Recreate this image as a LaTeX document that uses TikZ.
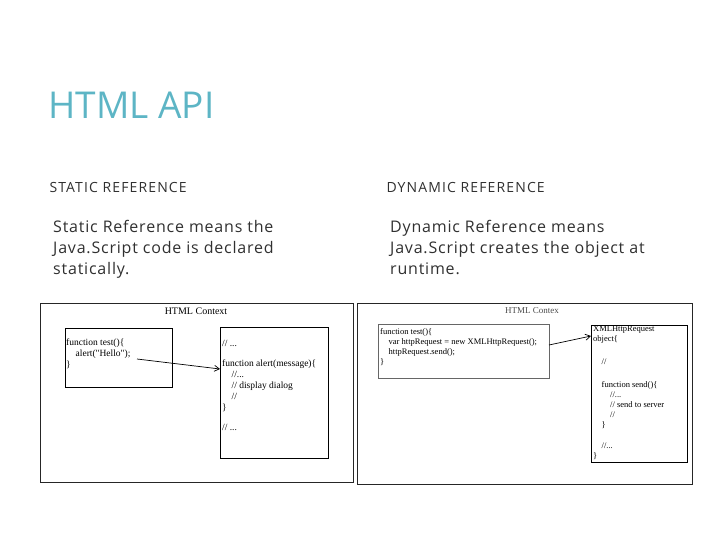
\documentclass[tikz,border=0pt]{standalone}
\usepackage{fontspec}
\setmainfont{Open Sans}
\newfontfamily\diag{Liberation Serif}
\usetikzlibrary{arrows.meta}
\definecolor{teal}{HTML}{5DB5C5}
\definecolor{txt}{HTML}{303030}
\begin{document}
\begin{tikzpicture}[x=1pt,y=-1pt,
  frame/.style={draw=black!85,line width=0.9pt},
  box/.style={draw,line width=0.9pt},
  boxg/.style={draw=black!60,line width=0.8pt},
  code/.style={font=\diag\fontsize{9.5}{11}\selectfont,anchor=north west,align=left,inner sep=0pt},
  arr/.style={-{Straight Barb[length=5pt,width=6pt]},line width=0.7pt}]
\useasboundingbox (0,0) rectangle (720,540);
\node[anchor=base west,text=teal,font=\fontsize{37}{40}\selectfont] (t) at (45,119) {HTML API};
\node[anchor=base west,text=txt,font=\fontsize{14}{17}\selectfont\addfontfeature{LetterSpace=8}] (h1) at (46,193) {STATIC REFERENCE};
\node[anchor=base west,text=txt,font=\fontsize{14}{17}\selectfont\addfontfeature{LetterSpace=8}] (h2) at (383,193) {DYNAMIC REFERENCE};
\node[anchor=north west,text=txt,align=left,inner sep=0pt,font=\fontsize{16}{21}\selectfont\addfontfeature{LetterSpace=5}] (b1) at (53,220) {Static Reference means the\\Java.Script code is declared\\statically.};
\node[anchor=north west,text=txt,align=left,inner sep=0pt,font=\fontsize{16}{21}\selectfont\addfontfeature{LetterSpace=5}] (b2) at (390,220) {Dynamic Reference means\\Java.Script creates the object at\\runtime.};
% left diagram
\draw[frame] (40,303) rectangle (353,482);
\node[font=\diag\fontsize{10}{11}\selectfont] (c1) at (196,311) {HTML Context};
\draw[box] (65,328) rectangle (172,387);
\node[code] (l1) at (66,339) {function test()\{\\\quad alert("Hello");\\\}};
\coordinate (la) at (137,359);
\draw[box] (220,327) rectangle (328,458);
\node[code] (l2) at (222,340) {// ...\\[9pt]function alert(message)\{\\\quad //...\\\quad // display dialog\\\quad //\\\}\\[9pt]// ...};
\coordinate (lb) at (220,369);
\draw[arr] (la) -- (lb);
% right diagram
\draw[frame] (357,303) rectangle (692,484);
\node[font=\diag\fontsize{9}{10}\selectfont,text=black!70] (c2) at (532,311) {HTML Contex};
\draw[boxg] (378,324) rectangle (549,378);
\node[code,font=\diag\fontsize{8.5}{10}\selectfont] (r1) at (380,328) {function test()\{\\\quad var httpRequest = new XMLHttpRequest();\\\quad httpRequest.send();\\\}};
\draw[box] (591,325) rectangle (687,462);
\node[code,font=\diag\fontsize{8.5}{10}\selectfont] (r2) at (593,326) {XMLHttpRequest\\object\{\\[13pt]\quad //\\[13pt]\quad function send()\{\\\qquad //...\\\qquad // send to server\\\qquad //\\\quad \}\\[11pt]\quad //...\\\}};
\coordinate (ra) at (549,345);
\coordinate (rb) at (591,336);
\draw[arr] (ra) -- (rb);
\end{tikzpicture}
\end{document}
